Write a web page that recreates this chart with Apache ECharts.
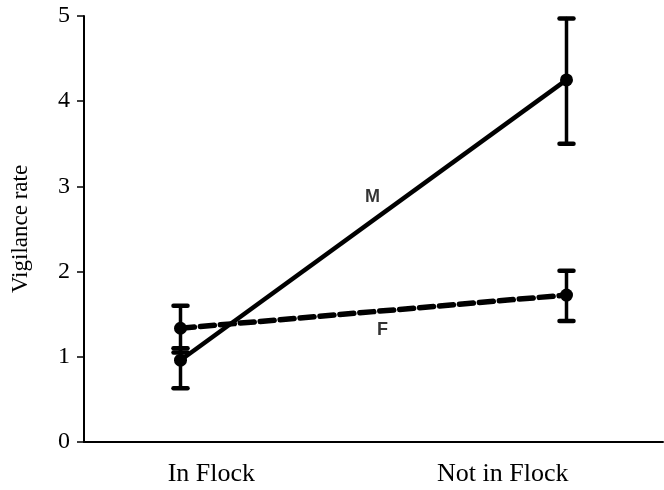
<!DOCTYPE html>
<html>
<head>
<meta charset="utf-8">
<script src="https://cdn.jsdelivr.net/npm/echarts@6/dist/echarts.min.js"></script>
<style>html,body{margin:0;padding:0;background:#fff}#c{width:664px;height:490px}</style>
</head>
<body>
<div id="c"></div>
<script>
// ---- data ----
var categories = ['In Flock', 'Not in Flock'];
var xPositions = [0.5, 2.5];          // group positions on x scale (0..3)
var labelPositions = [0.66, 2.17];    // where category labels sit on x scale
var mMean = [0.96, 4.25];
var mLow  = [0.63, 3.50];
var mHigh = [1.10, 4.97];
var fMean = [1.335, 1.725];
var fLow  = [1.05, 1.42];
var fHigh = [1.60, 2.01];
var yTicks = [0, 1, 2, 3, 4, 5];
var seriesLabels = ['M', 'F'];
var seriesLabelPos = [[1.495, 2.875], [1.547, 1.31]];

function pairs(xs, ys){ return xs.map(function(x,i){ return [x, ys[i]]; }); }
function bars(xs, lo, hi){ return xs.map(function(x,i){ return [x, lo[i], hi[i]]; }); }

function errRender(params, api){
  var x = api.value(0), lo = api.value(1), hi = api.value(2);
  var p1 = api.coord([x, hi]), p2 = api.coord([x, lo]);
  var cap = 7;
  var st = {stroke:'#000', lineWidth:3.5, lineCap:'round'};
  return {type:'group', children:[
    {type:'line', shape:{x1:p1[0], y1:p1[1], x2:p2[0], y2:p2[1]}, style:st},
    {type:'line', shape:{x1:p1[0]-cap, y1:p1[1], x2:p1[0]+cap, y2:p1[1]}, style:{stroke:'#000', lineWidth:4.5, lineCap:'round'}},
    {type:'line', shape:{x1:p2[0]-cap, y1:p2[1], x2:p2[0]+cap, y2:p2[1]}, style:{stroke:'#000', lineWidth:4.5, lineCap:'round'}}
  ]};
}

var chart = echarts.init(document.getElementById('c'), null, {renderer:'canvas'});
chart.setOption({
  animation:false,
  backgroundColor:'#fff',
  grid:{left:84, top:16, right:1, bottom:48, containLabel:false},
  xAxis:{
    type:'value', min:0, max:3,
    axisLine:{show:true, onZero:false, lineStyle:{color:'#000', width:2}},
    axisTick:{show:false},
    splitLine:{show:false},
    axisLabel:{
      customValues: labelPositions,
      formatter:function(v){ var i = labelPositions.indexOf(v); return i>=0 ? categories[i] : ''; },
      color:'#000', fontFamily:'Liberation Serif', fontSize:26, margin:19
    }
  },
  yAxis:{
    type:'value', min:0, max:5, interval:1,
    name:'Vigilance rate', nameLocation:'middle', nameGap:52,
    nameTextStyle:{color:'#000', fontFamily:'Liberation Serif', fontSize:23},
    axisLine:{show:true, lineStyle:{color:'#000', width:2}},
    axisTick:{show:true, length:7, lineStyle:{color:'#000', width:1.5}},
    splitLine:{show:false},
    axisLabel:{color:'#000', fontFamily:'Liberation Serif', fontSize:24, margin:14,
      formatter:function(v){ return yTicks.indexOf(v)>=0 ? String(v) : ''; }}
  },
  series:[
    {type:'custom', renderItem:errRender, data:bars(xPositions, mLow, mHigh), z:3},
    {type:'custom', renderItem:errRender, data:bars(xPositions, fLow, fHigh), z:3},
    {type:'line', name:'M', data:pairs(xPositions, mMean), symbol:'circle', symbolSize:13,
      itemStyle:{color:'#000'}, lineStyle:{color:'#000', width:4.5}, z:4},
    {type:'line', name:'F', data:pairs(xPositions, fMean), symbol:'circle', symbolSize:13,
      itemStyle:{color:'#000'}, lineStyle:{color:'#000', width:5.5, type:[14,6], cap:'round'}, z:4},
    {type:'scatter', data:seriesLabelPos.map(function(p,i){ return {value:p, name:seriesLabels[i]}; }),
      symbolSize:0, silent:true, z:5,
      label:{show:true, position:'inside', formatter:'{b}', color:'#000',
        fontFamily:'Liberation Sans', fontWeight:'bold', fontSize:18}}
  ]
});
</script>
</body>
</html>
